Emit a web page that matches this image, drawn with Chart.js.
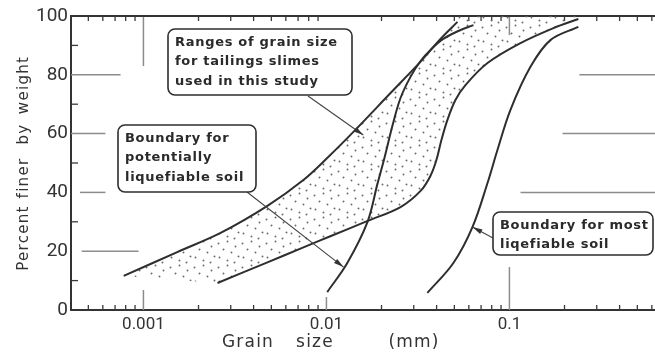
<!DOCTYPE html>
<html>
<head>
<meta charset="utf-8">
<script src="https://cdn.jsdelivr.net/npm/chart.js@4.4.1/dist/chart.umd.min.js"></script>
<style>
  html, body { margin: 0; padding: 0; background: #fff; overflow: hidden; }
  #wrap { width: 700px; height: 355px; }
</style>
</head>
<body>
<div id="wrap"><canvas id="grainChart" width="700" height="355"></canvas></div>
<script>
// ---- axes ----
const X_MIN = 0.000402;
const X_MAX = 1.1;
const xTickValues = [0.001, 0.01, 0.1];
const xTickLabels = ['0.001', '0.01', '0.1'];
const yTickValues = [0, 20, 40, 60, 80, 100];
const yMinorValues = [10, 30, 50, 70, 90];

// ---- grading curves: grain size (mm) vs percent finer ----
// tailings slimes band, fine edge
const slimesFineSize = [0.00078, 0.00153, 0.00264, 0.00476, 0.00748, 0.0101, 0.0140, 0.0224, 0.0327, 0.0420, 0.052];
const slimesFinePct  = [11.6, 19.7, 26.2, 35.4, 44.2, 51.7, 60.5, 73.8, 84.5, 92.2, 98.0];
// tailings slimes band, coarse edge
const slimesCoarseSize = [0.00254, 0.00476, 0.00721, 0.0105, 0.0168, 0.0254, 0.0327, 0.0370, 0.0399, 0.0425, 0.0458, 0.0507, 0.0575, 0.0759, 0.115, 0.174, 0.238];
const slimesCoarsePct  = [9.2, 16.2, 20.9, 25.1, 30.3, 35.0, 40.5, 45.6, 51.0, 57.8, 64.6, 71.4, 76.5, 84.0, 90.8, 95.9, 99.0];
// boundary for potentially liquefiable soil
const potentialSize = [0.0101, 0.0130, 0.01675, 0.0190, 0.02075, 0.0230, 0.0254, 0.0288, 0.0327, 0.0375, 0.0435, 0.0526, 0.0636];
const potentialPct  = [6.1, 16.0, 29.9, 42.9, 51.7, 62.9, 72.1, 79.3, 84.7, 88.8, 92.2, 94.9, 96.9];
// boundary for most liquefiable soil
const mostSize = [0.0356, 0.0494, 0.0628, 0.0759, 0.0860, 0.1012, 0.1303, 0.1675, 0.238];
const mostPct  = [5.8, 16.0, 28.2, 43.2, 54.4, 68.0, 82.7, 91.8, 96.3];

// faint leftover grid pieces: [percent, size from, size to]
const gridStubsH = [
  [80, X_MIN, 0.00075], [60, X_MIN, 0.00062], [40, 0.00045, 0.00062], [20, 0.00046, 0.00094],
  [80, 0.241, X_MAX], [60, 0.195, X_MAX], [40, 0.115, X_MAX]
];
// [size, percent from, percent to]
const gridStubsV = [
  [0.001, 83, 100], [0.1, 93.5, 100], [0.1, 0, 14.6], [0.001, 0, 6.8], [0.01, 0, 4.4]
];

// callout boxes (px) with arrow tip in data units
const notes = [
  { lines: ['Ranges of grain size', 'for tailings slimes', 'used in this study'],
    box: [168, 29, 184, 66], from: [308, 96], tip: [0.0159, 59.5] },
  { lines: ['Boundary for', 'potentially', 'liquefiable soil'],
    box: [118, 125, 138, 67], from: [247, 192], tip: [0.0124, 14.6] },
  { lines: ['Boundary for most', 'liqefiable soil'],
    box: [493, 212, 160, 43], from: [493, 238], tip: [0.0628, 28.2] }
];

const toPoints = (xs, ys) => xs.map((x, i) => ({ x: x, y: ys[i] }));

// closed outline of the slimes band, for the dotted fill
const bandOutline = toPoints(slimesFineSize, slimesFinePct)
  .concat([{ x: slimesFineSize[slimesFineSize.length - 1], y: 100 },
           { x: slimesCoarseSize[slimesCoarseSize.length - 1], y: 100 }])
  .concat(toPoints(slimesCoarseSize, slimesCoarsePct).reverse());

function makeStipple(){
  const c = document.createElement('canvas');
  c.width = 24; c.height = 24;
  const g = c.getContext('2d');
  g.fillStyle = '#6a6a6a';
  [[2,3],[11,1],[19,6],[7,9],[15,12],[22,16],[3,17],[11,20],[18,22]].forEach(([x, y]) => {
    g.beginPath();
    g.arc(x + 0.5, y + 0.5, 0.95, 0, Math.PI * 2);
    g.fill();
  });
  return g.createPattern(c, 'repeat');
}

function curve(data){
  return {
    data: data,
    showLine: true,
    borderColor: '#2e2e2e',
    borderWidth: 2,
    pointRadius: 0,
    tension: 0.35,
    fill: false
  };
}

function seg(ctx, x1, y1, x2, y2){
  ctx.beginPath();
  ctx.moveTo(x1, y1);
  ctx.lineTo(x2, y2);
  ctx.stroke();
}

const frame = {
  id: 'frame',
  beforeDatasetsDraw(chart){
    const {ctx, chartArea: a} = chart;
    const xs = chart.scales.x, ys = chart.scales.y;
    ctx.save();

    // leftover grid pieces
    ctx.strokeStyle = '#8c8c8c';
    ctx.lineWidth = 1.5;
    gridStubsH.forEach(([p, s1, s2]) => {
      const py = ys.getPixelForValue(p);
      seg(ctx, xs.getPixelForValue(s1), py, xs.getPixelForValue(s2), py);
    });
    gridStubsV.forEach(([s, p1, p2]) => {
      const px = xs.getPixelForValue(s);
      seg(ctx, px, ys.getPixelForValue(p1), px, ys.getPixelForValue(p2));
    });

    // inside tick marks
    ctx.strokeStyle = '#3a3a3a';
    ctx.lineWidth = 1.3;
    for (let e = -4; e <= 0; e++){
      for (let k = 2; k <= 9; k++){
        const v = k * Math.pow(10, e);
        if (v <= X_MIN || v >= X_MAX) continue;
        const px = xs.getPixelForValue(v);
        seg(ctx, px, a.bottom, px, a.bottom - 5);
        seg(ctx, px, a.top, px, a.top + 5);
      }
    }
    yMinorValues.forEach(v => {
      const py = ys.getPixelForValue(v);
      seg(ctx, a.left, py, a.left + 7, py);
    });

    // top frame line
    ctx.strokeStyle = '#333';
    ctx.lineWidth = 2;
    seg(ctx, a.left - 1, a.top, a.right, a.top);
    ctx.restore();
  },

  afterDatasetsDraw(chart){
    const {ctx} = chart;
    const xs = chart.scales.x, ys = chart.scales.y;
    ctx.save();
    ctx.font = 'bold 13px "DejaVu Sans"';
    ctx.letterSpacing = '0.7px';
    ctx.textBaseline = 'middle';
    notes.forEach(n => {
      const [bx, by, bw, bh] = n.box;
      const tx = xs.getPixelForValue(n.tip[0]);
      const ty = ys.getPixelForValue(n.tip[1]);
      const [fx, fy] = n.from;

      // leader and arrow head
      ctx.strokeStyle = '#444';
      ctx.lineWidth = 1.1;
      seg(ctx, fx, fy, tx, ty);
      const ang = Math.atan2(ty - fy, tx - fx);
      ctx.fillStyle = '#333';
      ctx.beginPath();
      ctx.moveTo(tx, ty);
      ctx.lineTo(tx - 10 * Math.cos(ang) + 2.6 * Math.sin(ang), ty - 10 * Math.sin(ang) - 2.6 * Math.cos(ang));
      ctx.lineTo(tx - 10 * Math.cos(ang) - 2.6 * Math.sin(ang), ty - 10 * Math.sin(ang) + 2.6 * Math.cos(ang));
      ctx.closePath();
      ctx.fill();

      // box
      ctx.fillStyle = '#fff';
      ctx.strokeStyle = '#2e2e2e';
      ctx.lineWidth = 1.6;
      ctx.beginPath();
      ctx.roundRect(bx, by, bw, bh, 7);
      ctx.fill();
      ctx.stroke();

      ctx.fillStyle = '#2a2a2a';
      n.lines.forEach((t, i) => ctx.fillText(t, bx + 7, by + 13.5 + i * 19.5));
    });

    // axis titles
    ctx.fillStyle = '#333';
    ctx.textAlign = 'center';
    ctx.font = '17px "DejaVu Sans"';
    ctx.letterSpacing = '1.2px';
    [['Grain', 248], ['size', 315], ['(mm)', 414]].forEach(([t, x]) => ctx.fillText(t, x, 343));

    ctx.font = '15px "DejaVu Sans"';
    ctx.letterSpacing = '1.3px';
    ctx.translate(24, 0);
    ctx.rotate(-Math.PI / 2);
    [['Percent', 238], ['finer', 178], ['by', 134], ['weight', 85]].forEach(([t, y]) => ctx.fillText(t, -y, 0));
    ctx.restore();
  }
};

new Chart(document.getElementById('grainChart'), {
  type: 'scatter',
  data: {
    datasets: [
      curve(toPoints(slimesFineSize, slimesFinePct)),
      curve(toPoints(slimesCoarseSize, slimesCoarsePct)),
      curve(toPoints(potentialSize, potentialPct)),
      curve(toPoints(mostSize, mostPct)),
      {
        data: bandOutline,
        showLine: true,
        borderWidth: 0,
        borderColor: 'rgba(0,0,0,0)',
        pointRadius: 0,
        tension: 0,
        fill: 'shape',
        backgroundColor: makeStipple()
      }
    ]
  },
  options: {
    responsive: false,
    animation: false,
    devicePixelRatio: 1,
    layout: { padding: { top: 16, right: 0, left: 0, bottom: 0 } },
    plugins: { legend: { display: false }, tooltip: { enabled: false } },
    scales: {
      x: {
        type: 'logarithmic',
        min: X_MIN,
        max: X_MAX,
        afterBuildTicks: s => { s.ticks = xTickValues.map(v => ({ value: v })); },
        afterFit: s => { s.height = 45; },
        grid: { display: false, drawTicks: false },
        border: { display: true, color: '#333', width: 2 },
        ticks: {
          autoSkip: false,
          maxRotation: 0,
          padding: 5,
          color: '#333',
          font: { family: 'Roboto', size: 17 },
          callback: (v, i) => xTickLabels[i]
        }
      },
      y: {
        min: 0,
        max: 100,
        afterBuildTicks: s => { s.ticks = yTickValues.map(v => ({ value: v })); },
        afterFit: s => { s.width = 71; },
        grid: { display: false, drawTicks: false },
        border: { display: true, color: '#333', width: 2 },
        ticks: {
          padding: 3,
          color: '#333',
          font: { family: 'Roboto', size: 19 }
        }
      }
    }
  },
  plugins: [frame]
});
</script>
</body>
</html>
